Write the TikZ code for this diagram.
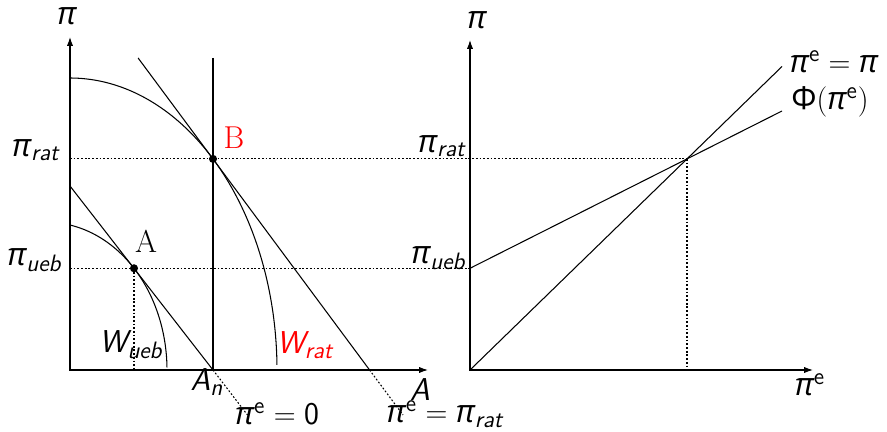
\documentclass[tikz,border=0pt]{standalone}
\usepackage{amsmath}
\usepackage{fontspec}
\DeclareMathSizes{18}{18}{13.5}{10}
\newfontfamily\grfont{Open Sans}
\newcommand\gpi{{\grfont\itshape π}}
\newcommand\gPhi{{\grfont Φ}}
\newcommand\mv[1]{{\sffamily\itshape #1}}
\newcommand\su[1]{{\sffamily #1}}
\usetikzlibrary{arrows.meta}
\begin{document}
\begin{tikzpicture}[x=0.02cm,y=-0.02cm,line width=0.6pt,
  axis/.style={{Latex[length=5pt,width=3.5pt]}-{Latex[length=5pt,width=3.5pt]}},
  dots/.style={line width=0.6pt,dash pattern=on 1pt off 1.1pt},
  lbl/.style={font=\fontsize{18}{21}\selectfont, inner sep=0pt},
  ptlbl/.style={font=\fontsize{18}{21}\selectfont, inner sep=0pt},
  pt/.style={fill=black}]
\useasboundingbox (0,0) rectangle (887,432);

% ---------- left panel ----------
\coordinate (Y1) at (70,37);
\coordinate (O1) at (70,370);
\coordinate (X1) at (428,370);
\draw[axis] (Y1) |- (X1);

\coordinate (Antop) at (213,58);
\coordinate (An) at (213,370);
\draw (Antop) -- (An);

% W_rat curve
\draw plot[domain=90:1,samples=80,smooth,variable=\t] ({70+207*cos(\t)},{370-292*sin(\t)});
\coordinate (B) at ({70+207*cos(46.3)},{370-292*sin(46.3)});
% tangent through B
\coordinate (tBtop) at (138.1,58);
\coordinate (tBx) at (369.6,370);
\coordinate (tBend) at (403,415);
\draw (tBtop) -- (tBx);
\draw[dots] (tBx) -- (tBend);

% W_ueb curve
\draw plot[domain=79:1,samples=80,smooth,variable=\t] ({47+120*cos(\t)},{370-147.7*sin(\t)});
\coordinate (A) at ({47+120*cos(43.53)},{370-147.7*sin(43.53)});
\coordinate (Ax) at ({47+120*cos(43.53)},370);
% tangent through A
\coordinate (tAtop) at (70,186);
\coordinate (tAend) at (247.5,415);
\draw (tAtop) -- (An);
\draw[dots] (An) -- (tAend);

% ---------- right panel ----------
\coordinate (Y2) at (470,40);
\coordinate (O2) at (470,370);
\coordinate (X2) at (813,370);
\draw[axis] (Y2) |- (X2);

\coordinate (E) at (687,158.9);
\coordinate (Ex) at (687,370);
\coordinate (Pueb) at (470,268.3);
\coordinate (L45) at (782,66.5);
\coordinate (LPhi) at (782,111);
\draw (O2) -- (L45);
\draw (Pueb) -- (LPhi);

% dotted guides
\draw[dots] (70,158.9) -- (E);
\draw[dots] (70,268.3) -- (Pueb);
\draw[dots] (A) -- (Ax);
\draw[dots] (E) -- (Ex);

% points
\fill[pt] (B) circle[radius=2.3pt];
\fill[pt] (A) circle[radius=2.3pt];

% ---------- labels ----------
\node[lbl] (lpi1) at (67,16) {\gpi};
\node[lbl] (lpi2) at (477,20) {\gpi};
\node[lbl,anchor=east] (lrat1) at (60,150) {$\text{\gpi}_{\text{\mv{rat}}}$};
\node[lbl,anchor=east] (lueb1) at (62,260) {$\text{\gpi}_{\text{\mv{ueb}}}$};
\node[lbl,anchor=east] (lrat2) at (466,146) {$\text{\gpi}_{\text{\mv{rat}}}$};
\node[lbl,anchor=east] (lueb2) at (466,258) {$\text{\gpi}_{\text{\mv{ueb}}}$};
\node[ptlbl,text=red] (lB) at (234,138) {B};
\node[ptlbl] (lA) at (146,241) {A};
\node[lbl] (lWueb) at (131,345) {$\text{\mv{W}}_{\text{\mv{ueb}}}$};
\node[lbl,text=red] (lWrat) at (305,345) {$\text{\mv{W}}_{\text{\mv{rat}}}$};
\node[lbl] (lAn) at (207,382) {$\text{\mv{A}}_{\text{\mv{n}}}$};
\node[lbl] (lAax) at (420,390) {\mv{A}};
\node[lbl] (lpe0) at (277,414) {$\text{\gpi}^{\text{\su{e}}}=\text{\su{0}}$};
\node[lbl] (lperat) at (445,414) {$\text{\gpi}^{\text{\su{e}}}=\text{\gpi}_{\text{\mv{rat}}}$};
\node[lbl] (lpepi) at (834,62) {$\text{\gpi}^{\text{\su{e}}}=\text{\gpi}$};
\node[lbl] (lPhi) at (830,102) {$\text{\gPhi}(\text{\gpi}^{\text{\su{e}}})$};
\node[lbl] (lpeax) at (810,385) {$\text{\gpi}^{\text{\su{e}}}$};
\end{tikzpicture}
\end{document}
